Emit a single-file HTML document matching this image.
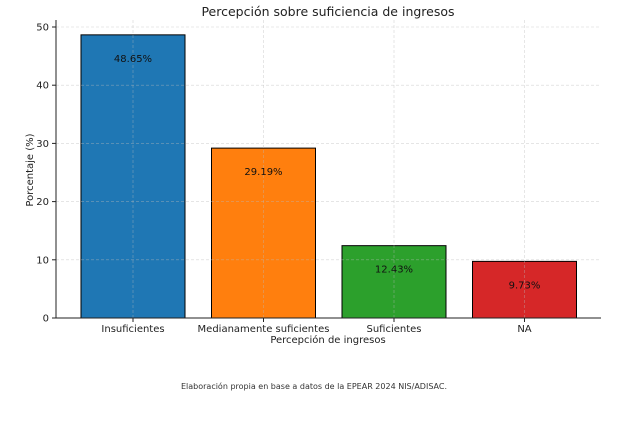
<!DOCTYPE html>
<html><head><meta charset="utf-8"><style>
body{margin:0;background:#fff;font-family:"Liberation Sans","DejaVu Sans",sans-serif}
</style></head><body>
<svg id="chart" width="636" height="416" xmlns="http://www.w3.org/2000/svg" font-family="DejaVu Sans, Liberation Sans, sans-serif">
<text x="328" y="16" text-anchor="middle" font-size="12.5" fill="#222">Percepción sobre suficiencia de ingresos</text>
<text x="328" y="343" text-anchor="middle" font-size="10" fill="#222">Percepción de ingresos</text>
<text transform="translate(33,170) rotate(-90)" text-anchor="middle" font-size="10" fill="#222">Porcentaje (%)</text>
<text x="314" y="389" text-anchor="middle" font-size="8" fill="#333">Elaboración propia en base a datos de la EPEAR 2024 NIS/ADISAC.</text>
<g id="plot"></g>
</svg>
<script>
const categories=["Insuficientes","Medianamente suficientes","Suficientes","NA"];
const values=[48.65,29.19,12.43,9.73];
const labels=["48.65%","29.19%","12.43%","9.73%"];
const colors=["#1f77b4","#ff7f0e","#2ca02c","#d62728"];
const yTicks=[0,10,20,30,40,50];
const L=56,R=601,B=318,T=27;
const y=v=>B-(v/50)*(B-T);
const x=i=>133+i*130.5;
const bw=104;
const g=document.getElementById('plot');
const NS="http://www.w3.org/2000/svg";
function mk(t,a){const e=document.createElementNS(NS,t);for(const k in a)e.setAttribute(k,a[k]);g.appendChild(e);return e;}
categories.forEach((c,i)=>{
 const r=mk('rect',{x:x(i)-bw/2,y:y(values[i]),width:bw,height:B-y(values[i]),fill:colors[i],stroke:'#000','stroke-width':1});
 
 
});
yTicks.forEach(v=>{
 const gl=mk('line',{x1:L,x2:R,y1:y(v),y2:y(v),stroke:'#bbb','stroke-dasharray':'3,2','stroke-width':0.6,'stroke-opacity':0.6});
 
 
 const tk=mk('line',{x1:L-4,x2:L,y1:y(v),y2:y(v),stroke:'#222'});
 
 
 const t=mk('text',{x:L-7,y:y(v)+3.5,'text-anchor':'end','font-size':10,fill:'#222'});
 t.textContent=v;
 
 
});
categories.forEach((c,i)=>{
 const gl=mk('line',{x1:x(i),x2:x(i),y1:20,y2:B,stroke:'#bbb','stroke-dasharray':'3,2','stroke-width':0.6,'stroke-opacity':0.6});
 
 
 const t=mk('text',{x:x(i),y:y(values[i])+27,'text-anchor':'middle','font-size':10,fill:'#111'});
 t.textContent=labels[i];
 
 
 const tk=mk('line',{x1:x(i),x2:x(i),y1:B,y2:B+4,stroke:'#222'});
 
 
 const xl=mk('text',{x:x(i),y:B+14,'text-anchor':'middle','font-size':10,fill:'#222'});
 xl.textContent=c;
 
 
});
const ax=mk('line',{x1:L,x2:L,y1:20,y2:B,stroke:'#222'});


const bx=mk('line',{x1:L,x2:R,y1:B,y2:B,stroke:'#222'});


</script>
</body></html>
